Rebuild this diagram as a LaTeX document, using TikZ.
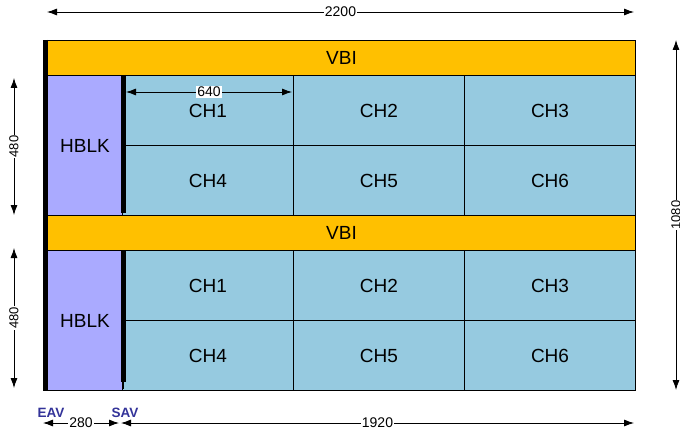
\documentclass[tikz,border=0pt]{standalone}
\usepackage{fontspec}
\setmainfont{Liberation Sans}
\usetikzlibrary{arrows.meta}
\definecolor{vbic}{RGB}{255,192,0}
\definecolor{hblkc}{RGB}{170,170,255}
\definecolor{chc}{RGB}{150,202,224}
\definecolor{savc}{RGB}{51,51,153}
\tikzset{
  box/.style={draw=black, line width=1pt, anchor=north west, inner sep=0pt,
    font=\fontsize{19}{21}\selectfont},
  vbibox/.style={box, fill=vbic, minimum width=588pt, minimum height=35pt},
  hblkbox/.style={box, fill=hblkc, minimum width=75pt, minimum height=140pt},
  chbox/.style={box, fill=chc, minimum width=171pt, minimum height=70pt},
  dimline/.style={line width=0.8pt, {Latex[length=10pt,width=7pt]}-{Latex[length=10pt,width=7pt]}},
  dimlabel/.style={fill=white, inner sep=1pt, font=\fontsize{14}{15}\selectfont},
  vlabel/.style={dimlabel, rotate=90, font=\fontsize{13}{14}\selectfont},
  thickbar/.style={line width=4.5pt},
  avlabel/.style={text=savc, font=\bfseries\fontsize{13.5}{14}\selectfont, inner sep=0pt}
}
\begin{document}
\begin{tikzpicture}[x=1pt,y=-1pt]
\useasboundingbox (0,0) rectangle (680,433);
\clip (0,0) rectangle (680,433);
% top block
\node[vbibox] (vbi1) at (47,40) {VBI};
\node[hblkbox] (hblk1) at (47,75) {HBLK};
\node[chbox] (c11) at (122,75) {CH1};
\node[chbox] (c12) at (293,75) {CH2};
\node[chbox] (c13) at (464,75) {CH3};
\node[chbox] (c14) at (122,145) {CH4};
\node[chbox] (c15) at (293,145) {CH5};
\node[chbox] (c16) at (464,145) {CH6};
% bottom block
\node[vbibox] (vbi2) at (47,215) {VBI};
\node[hblkbox] (hblk2) at (47,250) {HBLK};
\node[chbox] (c21) at (122,250) {CH1};
\node[chbox] (c22) at (293,250) {CH2};
\node[chbox] (c23) at (464,250) {CH3};
\node[chbox] (c24) at (122,320) {CH4};
\node[chbox] (c25) at (293,320) {CH5};
\node[chbox] (c26) at (464,320) {CH6};
% thick bars
\draw[thickbar] (45.5,40) -- (45.5,391);
\draw[thickbar] (123.3,75) -- (123.3,213);
\draw[thickbar] (123.3,250) -- (123.3,382);
\draw[line width=1.5pt] (123.3,381) -- (123.3,389);
% dimension coordinates
\coordinate (t1) at (47,12); \coordinate (t2) at (634,12);
\coordinate (r1) at (676,40); \coordinate (r2) at (676,390);
\coordinate (l1a) at (14,78); \coordinate (l1b) at (14,215);
\coordinate (l2a) at (14,248); \coordinate (l2b) at (14,388);
\coordinate (s1) at (126,92); \coordinate (s2) at (292,92);
\coordinate (b1) at (43,423); \coordinate (b2) at (119,423);
\coordinate (b3) at (121,423); \coordinate (b4) at (634,423);
\draw[dimline] (t1) -- node[dimlabel] (lt) {2200} (t2);
\draw[dimline] (r1) -- node[vlabel] (lr) {1080} (r2);
\draw[dimline] (l1a) -- node[vlabel] (ll1) {480} (l1b);
\draw[dimline] (l2a) -- node[vlabel] (ll2) {480} (l2b);
\draw[dimline] (s1) -- node[dimlabel] (ls) {640} (s2);
\draw[dimline] (b1) -- node[dimlabel] (lb1) {280} (b2);
\draw[dimline] (b3) -- node[dimlabel] (lb2) {1920} (b4);
% EAV / SAV
\node[avlabel] (eav) at (51,413) {EAV};
\node[avlabel] (sav) at (125,413) {SAV};
\end{tikzpicture}
\end{document}
